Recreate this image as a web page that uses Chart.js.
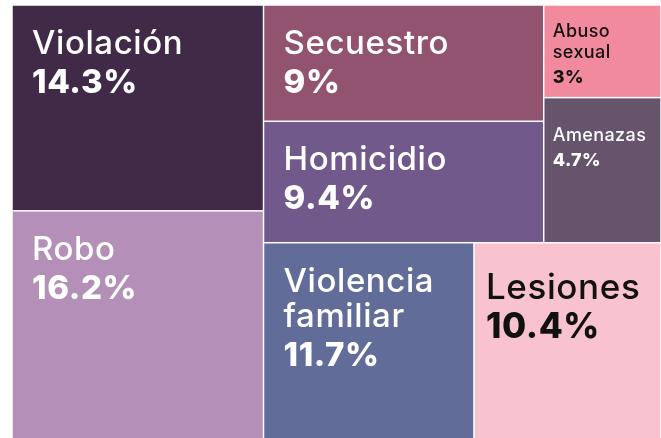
<!DOCTYPE html>
<html><head><meta charset="utf-8">
<script src="https://cdn.jsdelivr.net/npm/chart.js@4.4.1/dist/chart.umd.min.js"></script>
<style>
html,body{margin:0;padding:0;background:#fff;overflow:hidden}
#wrap{position:relative;width:661px;height:444px}
</style>
</head><body>
<div id="wrap"><canvas id="c"></canvas></div>
<script>
// ---- data ----
const categories = ['Violación', 'Robo', 'Secuestro', 'Homicidio', 'Violencia familiar', 'Lesiones', 'Abuso sexual', 'Amenazas'];
const shares = [14.3, 16.2, 9, 9.4, 11.7, 10.4, 3, 4.7];
const shareLabels = ['14.3%', '16.2%', '9%', '9.4%', '11.7%', '10.4%', '3%', '4.7%'];

// ---- styles ----
const fillColors = {
  'Violación': '#402a48', 'Robo': '#b490b9', 'Secuestro': '#91536f', 'Homicidio': '#72598c',
  'Violencia familiar': '#616c99', 'Lesiones': '#f8c3ce', 'Abuso sexual': '#f28a9e', 'Amenazas': '#65546c'
};
const darkText = {'Lesiones': true, 'Abuso sexual': true};
const FONT = 'Inter, "Noto Sans", sans-serif';

// squarified treemap (ratio-based), laid out in value space
function squarify(items, x0, y0, x1, y1, ratio) {
  const out = [];
  const n = items.length;
  let value = items.reduce((s, it) => s + it.value, 0);
  let i0 = 0, i1 = 0;
  while (i0 < n) {
    const dx = x1 - x0, dy = y1 - y0;
    let sumValue = items[i1++].value;
    let minV = sumValue, maxV = sumValue;
    const alpha = Math.max(dy / dx, dx / dy) / (value * ratio);
    let beta = sumValue * sumValue * alpha;
    let minRatio = Math.max(maxV / beta, beta / minV);
    for (; i1 < n; ++i1) {
      const nv = items[i1].value;
      sumValue += nv;
      if (nv < minV) minV = nv;
      if (nv > maxV) maxV = nv;
      beta = sumValue * sumValue * alpha;
      const newRatio = Math.max(maxV / beta, beta / minV);
      if (newRatio > minRatio) { sumValue -= nv; break; }
      minRatio = newRatio;
    }
    const row = items.slice(i0, i1);
    if (dx < dy) {
      const ny = y0 + dy * sumValue / value;
      let x = x0;
      row.forEach(it => { const w = dx * it.value / sumValue; out.push(Object.assign({}, it, {x0: x, x1: x + w, y0: y0, y1: ny})); x += w; });
      y0 = ny;
    } else {
      const nx = x0 + dx * sumValue / value;
      let y = y0;
      row.forEach(it => { const h = dy * it.value / sumValue; out.push(Object.assign({}, it, {x0: x0, x1: nx, y0: y, y1: y + h})); y += h; });
      x0 = nx;
    }
    value -= sumValue; i0 = i1;
  }
  return out;
}

function wrapWords(ctx, text, maxW) {
  const words = text.split(' ');
  const lines = [];
  let cur = '';
  words.forEach(w => {
    const t = cur ? cur + ' ' + w : w;
    if (cur && ctx.measureText(t).width > maxW) { lines.push(cur); cur = w; } else cur = t;
  });
  if (cur) lines.push(cur);
  return lines;
}

const treemapPlugin = {
  id: 'treemapCells',
  afterDatasetsDraw(chart) {
    const {ctx, chartArea, scales} = chart;
    const xs = scales.x, ys = scales.y;
    const aspect = chartArea.width / chartArea.height;
    const items = categories.map((c, i) => ({name: c, value: shares[i], label: shareLabels[i]}))
      .sort((a, b) => b.value - a.value);
    const cells = squarify(items, 0, 0, aspect, 1, 1.35);
    const gap = 0.75;
    ctx.save();
    cells.forEach(cell => {
      const left = xs.getPixelForValue(cell.x0 / aspect);
      const right = xs.getPixelForValue(cell.x1 / aspect);
      const top = ys.getPixelForValue(cell.y1);
      const bottom = ys.getPixelForValue(cell.y0);
      ctx.fillStyle = fillColors[cell.name];
      ctx.fillRect(left + gap, top + gap, right - left - 2 * gap, bottom - top - 2 * gap);

      const w = right - left, h = bottom - top;
      const small = w < 150;
      const isLes = cell.name === 'Lesiones';
      const fs = small ? 18 : (isLes ? 35 : 33);
      const padX = small ? 9 : (isLes ? 12 : 20);
      const lh = small ? 21 : 35;
      const pctGap = small ? 25 : 39;
      const firstBase = top + (small ? Math.min(43, 0.35 * h) : (isLes ? 56 : 49));
      ctx.fillStyle = darkText[cell.name] ? '#111111' : '#ffffff';
      ctx.textBaseline = 'alphabetic';
      ctx.textAlign = 'left';
      try { ctx.letterSpacing = small ? '0.4px' : '0.6px'; } catch (e) {}
      ctx.font = '500 ' + fs + 'px ' + FONT;
      const lines = wrapWords(ctx, cell.name, w - 2 * padX);
      let y = firstBase;
      lines.forEach((l, k) => { ctx.fillText(l, left + padX, y); if (k < lines.length - 1) y += lh; });
      ctx.font = '800 ' + fs + 'px ' + FONT;
      ctx.fillText(cell.label, left + padX, y + pctGap);
    });
    ctx.restore();
  }
};

new Chart(document.getElementById('c'), {
  type: 'scatter',
  data: {
    labels: categories,
    datasets: [{
      label: 'Delitos',
      data: shares.map((v, i) => ({x: i, y: v})),
      pointRadius: 0,
      pointHoverRadius: 0,
      showLine: false
    }]
  },
  options: {
    responsive: true,
    maintainAspectRatio: false,
    animation: false,
    layout: {padding: {left: 12, top: 5, right: 0, bottom: 0}},
    plugins: {legend: {display: false}, tooltip: {enabled: false}, title: {display: false}},
    scales: {
      x: {type: 'linear', min: 0, max: 1, display: false},
      y: {type: 'linear', min: 0, max: 1, display: false}
    }
  },
  plugins: [treemapPlugin]
});
</script>
</body></html>
